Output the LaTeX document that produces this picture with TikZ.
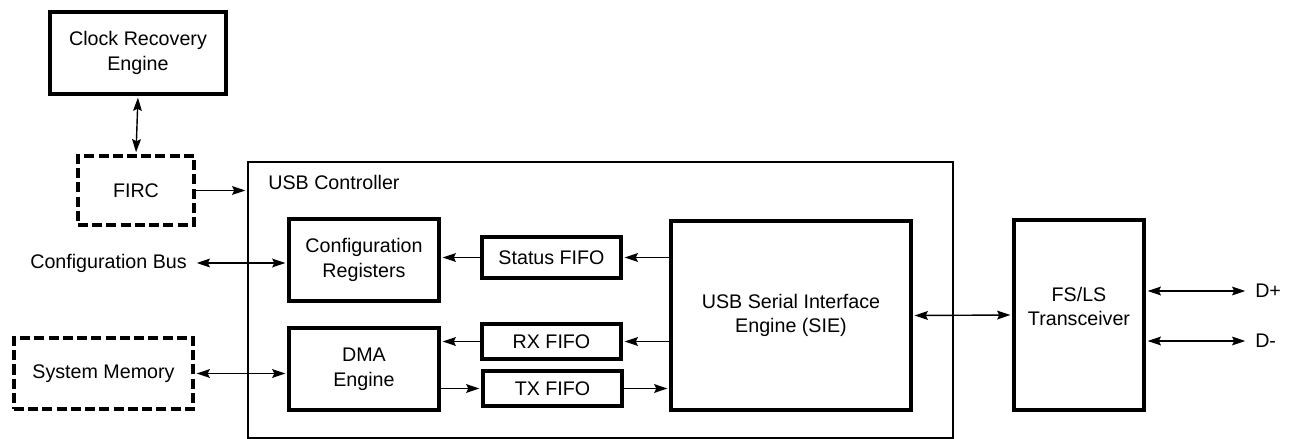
\documentclass[tikz,border=0pt]{standalone}
\usepackage{fontspec}
\setmainfont{Liberation Sans}
\usetikzlibrary{arrows.meta}

\begin{document}
\begin{tikzpicture}[
      x=0.02cm, y=-0.02cm,
      >={Stealth[length=7.5pt,width=5pt,inset=1.2pt]},
      every node/.style={font=\fontsize{11.2}{14}\selectfont},
      block/.style={rectangle, draw=black, line width=2.2pt, align=center, inner sep=0pt},
      outside/.style={block, dash pattern=on 5.7pt off 2.4pt},
      fifo/.style={block, minimum width=2.78cm, minimum height=0.7cm},
      frame/.style={rectangle, draw=black, line width=1.2pt, minimum width=14.1cm, minimum height=5.52cm},
      label/.style={inner ysep=0pt, inner xsep=4.5pt},
      link/.style={line width=0.8pt, shorten >=1pt, ->},
      duplex/.style={link, shorten <=1pt, <->}
  ]
    \useasboundingbox (0,0) rectangle (1289,439);

    \node[frame] (usbc) at (600.5,300) {};
    \node[anchor=west, inner sep=0pt] (usbtitle) at (268,182) {USB Controller};

    \node[block, minimum width=3.52cm, minimum height=1.64cm] (clock) at (138,53) {Clock Recovery\\Engine};
    \node[outside, minimum width=2.32cm, minimum height=1.38cm] (firc) at (136,190.5) {FIRC};
    \node[outside, minimum width=3.58cm, minimum height=1.42cm] (sysmem) at (103.5,373.5) {System Memory};
    \node[label, anchor=east] (cbus) at (195,263) {Configuration Bus};

    \node[block, minimum width=3.0cm, minimum height=1.64cm] (cfg) at (364,260) {Configuration\\Registers};
    \node[block, minimum width=3.0cm, minimum height=1.64cm] (dma) at (364,369) {DMA\\Engine};
    \node[fifo, minimum height=0.82cm] (status) at (551.5,257.5) {Status FIFO};
    \node[fifo] (rx) at (551.5,341.5) {RX FIFO};
    \node[fifo] (tx) at (552.5,388.5) {TX FIFO};
    \node[block, minimum width=4.8cm, minimum height=3.78cm] (sie) at (791,315.5) {USB Serial Interface\\Engine (SIE)};

    \node[block, minimum width=2.6cm, minimum height=3.8cm] (xcvr) at (1079,315) {FS/LS\\Transceiver\\[-4pt]};
    \node[label, anchor=west] (dplus) at (1247,291) {D+};
    \node[label, anchor=west] (dminus) at (1247,341) {D-};

    \draw[duplex] (clock.south) -- (firc.north);
    \draw[link] (firc.east) -- (firc.east -| usbc.west);
    \draw[duplex] (cbus.east) -- (cbus.east -| cfg.west);
    \draw[duplex] (sysmem.east) -- (sysmem.east -| dma.west);

    \draw[link] (sie.west |- status) -- (status.east);
    \draw[link] (status.west) -- (status.west -| cfg.east);
    \draw[link] (sie.west |- rx) -- (rx.east);
    \draw[link] (rx.west) -- (rx.west -| dma.east);
    \draw[link] (dma.east |- tx) -- (tx.west);
    \draw[link] (tx.east) -- (tx.east -| sie.west);

    \draw[duplex] (sie.east) -- (xcvr.west);
    \draw[duplex] (xcvr.east |- dplus) -- (dplus.west);
    \draw[duplex] (xcvr.east |- dminus) -- (dminus.west);
  \end{tikzpicture}
\end{document}
